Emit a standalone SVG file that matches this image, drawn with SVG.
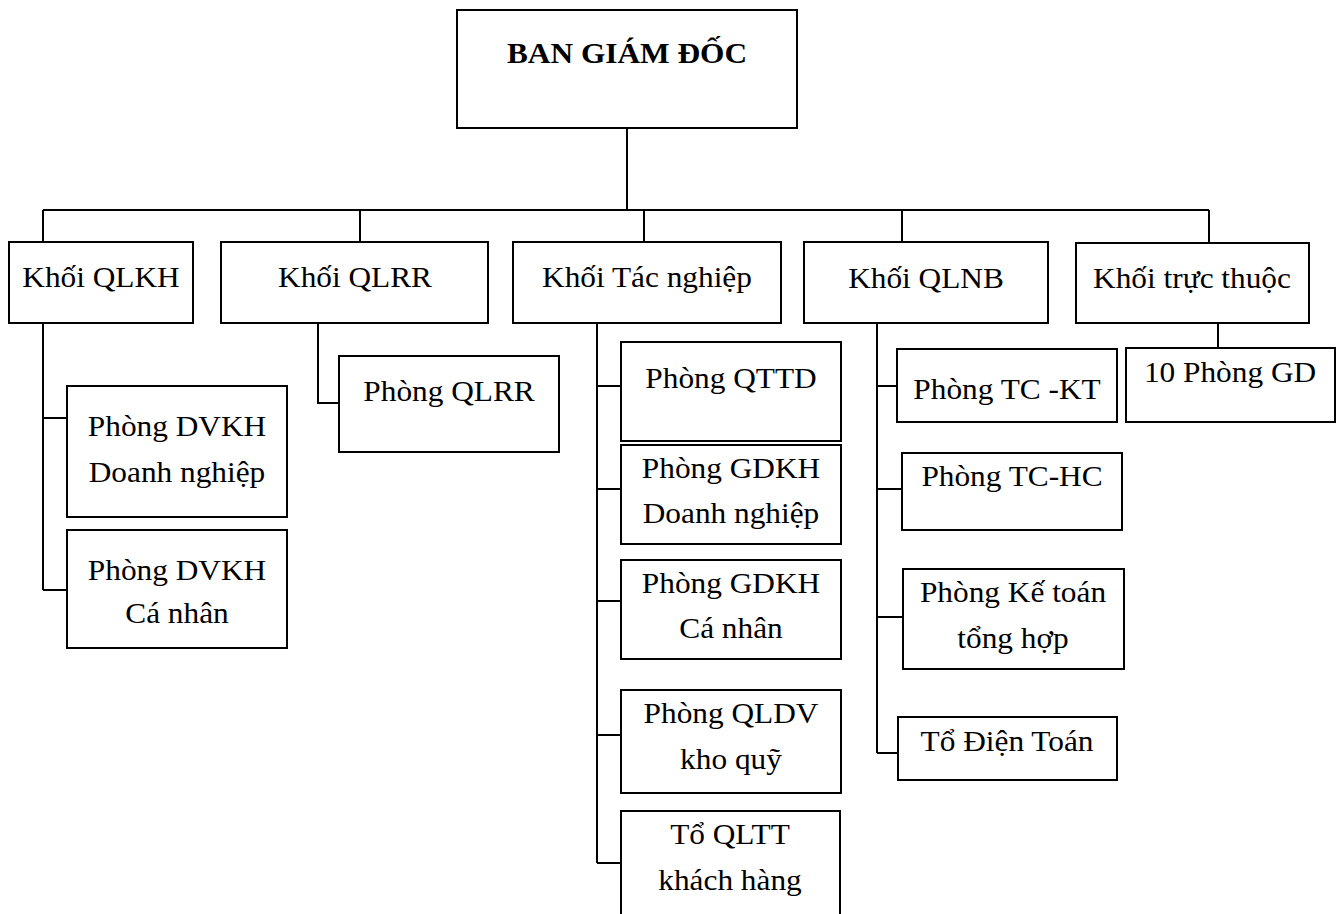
<svg xmlns="http://www.w3.org/2000/svg" width="1341" height="914" viewBox="0 0 1341 914">
<style>
rect.box{fill:#fff;stroke:#000;stroke-width:2}
#connectors path{fill:none;stroke:#000;stroke-width:2}
text{font-family:"Liberation Serif","Times New Roman",serif;font-size:29px;fill:#000;text-anchor:middle}
text.b{font-weight:bold}
</style>
<rect width="1341" height="914" fill="#fff"/>
<g id="connectors">
<path d="M627,128 V210"/>
<path d="M43,210 H1209"/>
<path d="M43,210 V242 M360,210 V242 M644,210 V242 M902,210 V242 M1209,210 V243"/>
<path d="M43,323 V590 M43,418 H67 M43,590 H67"/>
<path d="M318,323 V403 H339"/>
<path d="M597,323 V863 M597,386 H621 M597,489 H621 M597,601 H621 M597,735 H621 M597,863 H621"/>
<path d="M877,323 V753 M877,386 H897 M877,489 H902 M877,617 H903 M877,753 H898"/>
<path d="M1218,323 V348"/>
</g>
<g id="ban-giam-doc"><rect class="box" x="457" y="10" width="340" height="118"/><text class="b" transform="translate(627,63) scale(1.08,1)">BAN GIÁM ĐỐC</text></g>
<g id="khoi-qlkh"><rect class="box" x="9" y="242" width="184" height="81"/><text transform="translate(101,287) scale(1.08,1)">Khối QLKH</text></g>
<g id="khoi-qlrr"><rect class="box" x="221" y="242" width="267" height="81"/><text transform="translate(355,287) scale(1.08,1)">Khối QLRR</text></g>
<g id="khoi-tac-nghiep"><rect class="box" x="513" y="242" width="268" height="81"/><text transform="translate(647,287) scale(1.08,1)">Khối Tác nghiệp</text></g>
<g id="khoi-qlnb"><rect class="box" x="804" y="242" width="244" height="81"/><text transform="translate(926,288) scale(1.08,1)">Khối QLNB</text></g>
<g id="khoi-truc-thuoc"><rect class="box" x="1076" y="243" width="233" height="80"/><text transform="translate(1192,288) scale(1.08,1)">Khối trực thuộc</text></g>
<g id="phong-dvkh-dn"><rect class="box" x="67" y="386" width="220" height="131"/><text transform="translate(177,436) scale(1.08,1)">Phòng DVKH</text><text transform="translate(177,482) scale(1.08,1)">Doanh nghiệp</text></g>
<g id="phong-dvkh-cn"><rect class="box" x="67" y="530" width="220" height="118"/><text transform="translate(177,580) scale(1.08,1)">Phòng DVKH</text><text transform="translate(177,623) scale(1.08,1)">Cá nhân</text></g>
<g id="phong-qlrr"><rect class="box" x="339" y="356" width="220" height="96"/><text transform="translate(449,401) scale(1.08,1)">Phòng QLRR</text></g>
<g id="phong-qttd"><rect class="box" x="621" y="342" width="220" height="99"/><text transform="translate(731,388) scale(1.08,1)">Phòng QTTD</text></g>
<g id="phong-gdkh-dn"><rect class="box" x="621" y="445" width="220" height="99"/><text transform="translate(731,478) scale(1.08,1)">Phòng GDKH</text><text transform="translate(731,523) scale(1.08,1)">Doanh nghiệp</text></g>
<g id="phong-gdkh-cn"><rect class="box" x="621" y="560" width="220" height="99"/><text transform="translate(731,593) scale(1.08,1)">Phòng GDKH</text><text transform="translate(731,638) scale(1.08,1)">Cá nhân</text></g>
<g id="phong-qldv"><rect class="box" x="621" y="690" width="220" height="103"/><text transform="translate(731,723) scale(1.08,1)">Phòng QLDV</text><text transform="translate(731,769) scale(1.08,1)">kho quỹ</text></g>
<g id="to-qltt"><rect class="box" x="621" y="811" width="219" height="140"/><text transform="translate(730,844) scale(1.08,1)">Tổ QLTT</text><text transform="translate(730,890) scale(1.08,1)">khách hàng</text></g>
<g id="phong-tc-kt"><rect class="box" x="897" y="349" width="220" height="73"/><text transform="translate(1007,399) scale(1.08,1)">Phòng TC -KT</text></g>
<g id="phong-tc-hc"><rect class="box" x="902" y="453" width="220" height="77"/><text transform="translate(1012,486) scale(1.08,1)">Phòng TC-HC</text></g>
<g id="phong-ke-toan"><rect class="box" x="903" y="569" width="221" height="100"/><text transform="translate(1013,602) scale(1.08,1)">Phòng Kế toán</text><text transform="translate(1013,648) scale(1.08,1)">tổng hợp</text></g>
<g id="to-dien-toan"><rect class="box" x="898" y="717" width="219" height="63"/><text transform="translate(1007,751) scale(1.08,1)">Tổ Điện Toán</text></g>
<g id="phong-gd"><rect class="box" x="1126" y="348" width="209" height="74"/><text transform="translate(1230,382) scale(1.08,1)">10 Phòng GD</text></g>
</svg>
